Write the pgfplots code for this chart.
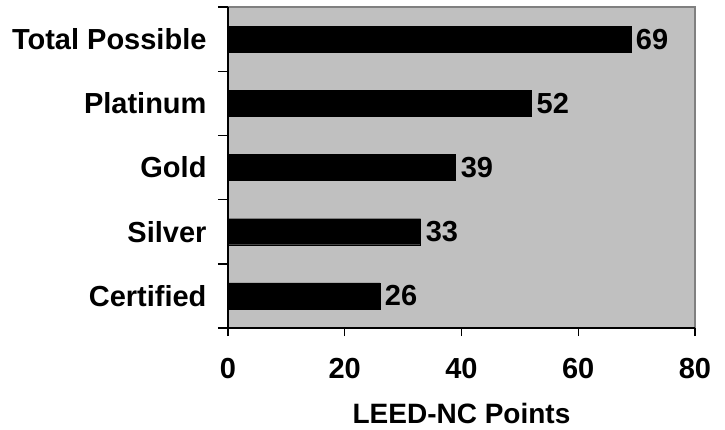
\documentclass[border=0pt]{standalone}
\usepackage{fontspec}
\setmainfont{Liberation Sans}
\usepackage{pgfplots}
\pgfplotsset{compat=1.18}
\definecolor{plotbg}{RGB}{192,192,192}
\definecolor{frameg}{RGB}{128,128,128}
\begin{document}
\begin{tikzpicture}
\path[use as bounding box] (-228pt,-101pt) rectangle (497pt,328pt);
\begin{axis}[
  at={(0,0)}, anchor=south west,
  scale only axis,
  width=467pt, height=321pt,
  xbar, bar width=26pt,
  xmin=0, xmax=80,
  ymin=-0.5, ymax=4.5,
  xtick={0,20,40,60,80},
  ytick={0,1,2,3,4},
  yticklabels={Certified,Silver,Gold,Platinum,Total Possible},
  minor ytick={-0.5,0.5,1.5,2.5,3.5,4.5},
  axis x line*=bottom,
  axis y line*=left,
  axis line style={-, black, line width=1.6pt},
  axis background/.style={fill=plotbg, draw=frameg, line width=1.2pt},
  tick align=outside,
  major tick length=8pt,
  minor tick length=10pt,
  major x tick style={black, line width=1.4pt},
  major y tick style={draw=none},
  minor y tick style={black, line width=1.4pt},
  /pgf/number format/assume math mode=true,
  font=\fontsize{29}{33}\selectfont\bfseries,
  yticklabel style={font=\fontsize{29}{33}\selectfont\bfseries, xshift=-10pt},
  xticklabel style={font=\fontsize{29}{33}\selectfont\bfseries, yshift=-19pt},
  xlabel={LEED-NC Points},
  x label style={at={(axis description cs:0.5,0)}, anchor=center, yshift=-85pt, font=\fontsize{28}{32}\selectfont\bfseries},
  nodes near coords,
  nodes near coords style={anchor=west, inner sep=2pt, xshift=3pt, font=\fontsize{29}{33}\selectfont\bfseries, black},
  clip=false,
]
\addplot[fill=black, draw=black] table[x=v, y=y] {
y v
0 26
1 33
2 39
3 52
4 69
};
\end{axis}
\end{tikzpicture}
\end{document}
